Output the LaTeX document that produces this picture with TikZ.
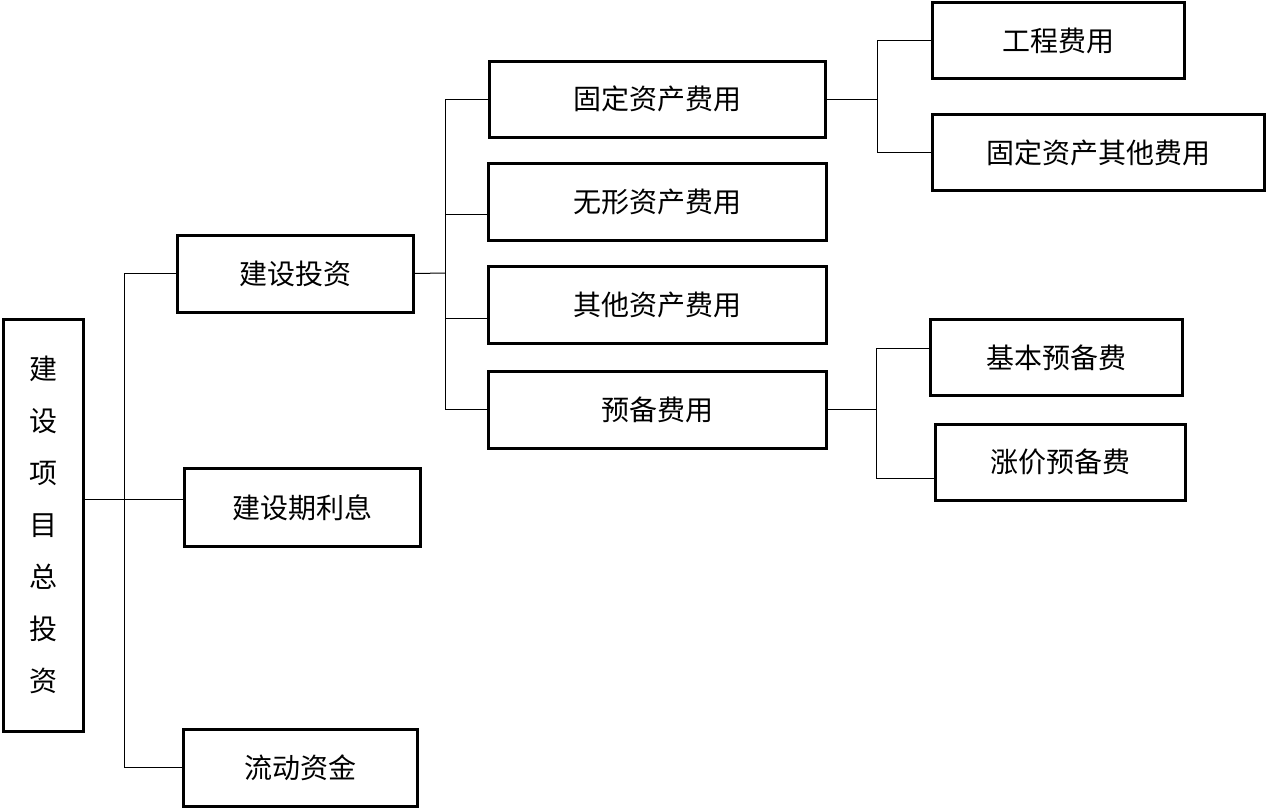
\documentclass[tikz,border=0pt]{standalone}
\usepackage{fontspec}
\setmainfont{Noto Sans CJK SC}
\usepackage{tikz}
\usetikzlibrary{positioning, calc}

\begin{document}
\begin{tikzpicture}[
  x=0.5pt, y=-0.5pt,
  box/.style={draw, line width=1.5pt, rectangle, inner sep=0pt, minimum height=38.5pt, align=center, font=\fontsize{14}{16}\selectfont},
  link/.style={line width=0.5pt}
]
\useasboundingbox (0,0) rectangle (1268,809);

\node[box, minimum width=40pt, minimum height=206pt, font=\fontsize{14}{26}\selectfont] (total) at (43,525) {建\\设\\项\\目\\总\\投\\资};

\node[box, minimum width=118pt] (build) at (295,273.5) {建设投资};
\node[box, minimum width=118pt, minimum height=39pt] (interest) at (302,507.5) {建设期利息};
\node[box, minimum width=117pt] (working) at (300.5,767.5) {流动资金};

\node[box, minimum width=168pt, minimum height=38pt] (fixed) at (657.5,99) {固定资产费用};
\node[box, minimum width=169pt] (intangible) at (657,201.5) {无形资产费用};
\node[box, minimum width=169pt] (otherasset) at (657,305) {其他资产费用};
\node[box, minimum width=169pt] (reserve) at (657,409.5) {预备费用};

\node[box, minimum width=126pt, minimum height=38pt] (engineering) at (1058.5,40.5) {工程费用};
\node[box, minimum width=166pt, minimum height=38pt] (fixedother) at (1098.5,152.5) {固定资产其他费用};
\node[box, minimum width=126pt, minimum height=38pt] (basic) at (1056.5,357.5) {基本预备费};
\node[box, minimum width=125pt, minimum height=38pt] (price) at (1060,462) {涨价预备费};

% spines
\coordinate (sp1) at (124,499);
\coordinate (sp2) at (445,273);
\coordinate (sp3) at (877,99);
\coordinate (b2a) at (445,214);
\coordinate (b2b) at (445,318);
\coordinate (b4a) at (876,348);
\coordinate (b4b) at (876,478);

\draw[link] (total.east |- sp1) -- (interest.west |- sp1);
\draw[link] (build.west) -| (working.west -| sp1) -- (working.west);

\draw[link] (build.east) -- (sp2);
\draw[link] (fixed.west) -| (reserve.west -| sp2) -- (reserve.west);
\draw[link] (b2a) -- (intangible.west |- b2a);
\draw[link] (b2b) -- (otherasset.west |- b2b);

\draw[link] (fixed.east) -- (sp3);
\draw[link] (engineering.west) -| (fixedother.west -| sp3) -- (fixedother.west);

\draw[link] (reserve.east) -- (reserve.east -| b4a);
\draw[link] (b4a) -- (b4b);
\draw[link] (b4a) -- (basic.west |- b4a);
\draw[link] (b4b) -- (price.west |- b4b);

\end{tikzpicture}
\end{document}
